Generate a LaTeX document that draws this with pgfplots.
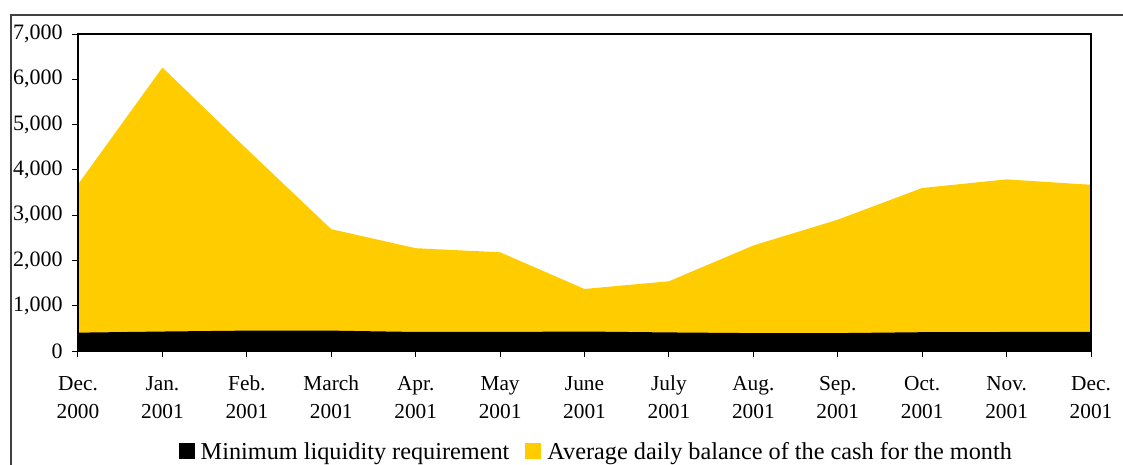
\documentclass[border=0pt]{standalone}
\usepackage{pgfplots}
\pgfplotsset{compat=1.18}
\usepackage{fontspec}
\setmainfont{Liberation Serif}
\definecolor{cashyellow}{HTML}{FFCC00}
\definecolor{framegray}{HTML}{404040}
\begin{document}
\begin{tikzpicture}
\path[use as bounding box] (0,0) rectangle (842.25pt,348pt);
\draw[framegray, line width=0.8pt] (8.25pt,-20pt) rectangle (860pt,336.75pt);
\begin{axis}[
  at={(58.5pt,84.75pt)}, anchor=south west,
  scale only axis, width=759.75pt, height=237.75pt,
  xmin=0, xmax=12, ymin=0, ymax=7000,
  xtick={0,...,12},
  xticklabels={{\strut Dec.\\\strut 2000},{\strut Jan.\\\strut 2001},{\strut Feb.\\\strut 2001},{\strut March\\\strut 2001},{\strut Apr.\\\strut 2001},{\strut May\\\strut 2001},{\strut June\\\strut 2001},{\strut July\\\strut 2001},{\strut Aug.\\\strut 2001},{\strut Sep.\\\strut 2001},{\strut Oct.\\\strut 2001},{\strut Nov.\\\strut 2001},{\strut Dec.\\\strut 2001}},
  ytick={0,1000,...,7000},
  xtick pos=bottom, ytick pos=left,
  scaled y ticks=false,
  /pgf/number format/1000 sep={,},
  /pgf/number format/assume math mode=true,
  ticklabel style={font=\fontsize{16}{21}\selectfont},
  yticklabel style={xshift=-3.5pt, font=\fontsize{16.5}{21}\selectfont},
  xticklabel style={align=center, yshift=-7pt},
  tick align=outside,
  major tick length=4.5pt,
  tick style={black, line width=0.75pt},
  axis line style={black, line width=0.8pt},
  axis on top,
  legend style={at={(0.512,-0.319)}, anchor=center, draw=none, fill=none,
    legend columns=2, font=\fontsize{18.2}{20}\selectfont,
    /tikz/every even column/.append style={column sep=10pt}},
  legend cell align=left,
  reverse legend,
  legend image code/.code={\fill[#1] (0pt,-5pt) rectangle (12pt,7pt); \path (14.5pt,0pt);},
]
\addplot[fill=cashyellow, draw=none] coordinates {
(0,3680) (1,6260) (2,4460) (3,2690) (4,2270) (5,2180) (6,1370) (7,1540) (8,2330) (9,2900) (10,3600) (11,3790) (12,3670)
} \closedcycle;
\addlegendentry{Average daily balance of the cash for the month}
\addplot[fill=black, draw=none] coordinates {
(0,405) (1,430) (2,450) (3,450) (4,420) (5,420) (6,430) (7,410) (8,395) (9,395) (10,415) (11,420) (12,420)
} \closedcycle;
\addlegendentry{Minimum liquidity requirement}
\end{axis}
\end{tikzpicture}
\end{document}
